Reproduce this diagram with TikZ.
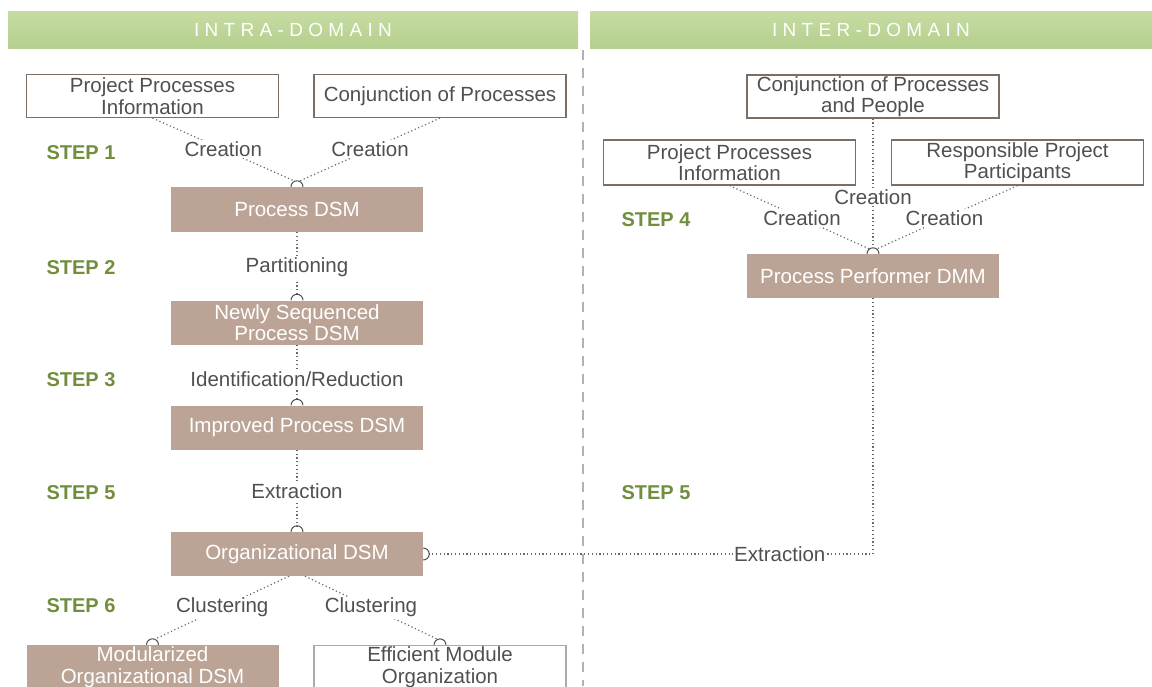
\documentclass[tikz,border=0pt]{standalone}
\usepackage{fontspec}
\setmainfont{Liberation Sans}
\definecolor{boxfill}{RGB}{187,164,150}
\definecolor{boxline}{RGB}{125,110,100}
\definecolor{txtgray}{RGB}{80,80,80}
\definecolor{stepgreen}{RGB}{112,142,62}
\definecolor{linegray}{RGB}{105,105,105}
\definecolor{hdrtop}{RGB}{198,220,162}
\definecolor{hdrbot}{RGB}{180,207,142}
\begin{document}
\begin{tikzpicture}[x=1pt,y=-1pt,
  dsm/.style={fill=boxfill,text=white,minimum width=252pt,minimum height=44pt,inner sep=0pt,align=center,font=\fontsize{20.5}{21.5}\selectfont},
  src/.style={draw=boxline,line width=1.2pt,fill=white,text=txtgray,minimum width=252pt,minimum height=43pt,inner sep=0pt,align=center,font=\fontsize{20.5}{21.5}\selectfont},
  lbl/.style={fill=white,text=txtgray,inner sep=1.5pt,font=\fontsize{20.5}{21.5}\selectfont},
  stp/.style={text=stepgreen,font=\bfseries\fontsize{20}{22}\selectfont},
  conn/.style={draw=linegray,line width=1.2pt,dash pattern=on 1.2pt off 2.6pt},
  sock/.style={draw=black!70,line width=1pt},
  hdr/.style={top color=hdrtop,bottom color=hdrbot,draw=none,minimum height=37pt,inner sep=0pt,text=white,font=\fontsize{19}{21}\selectfont\addfontfeature{LetterSpace=28}}
]
\useasboundingbox (0,0) rectangle (1152,686);
\clip (0,0) rectangle (1152,686);

% headers
\node[hdr,minimum width=570pt] (hintra) at (293,30) {INTRA-DOMAIN};
\node[hdr,minimum width=562pt] (hinter) at (871,30) {INTER-DOMAIN};

% separator
\draw[draw=gray!60,line width=1.3pt,dash pattern=on 10pt off 8pt] (583,50) -- (583,686);

% intra-domain nodes
\node[src] (ppi) at (152.5,96) {Project Processes\\Information};
\node[src] (cop) at (440,96) {Conjunction of Processes};
\node[dsm,minimum height=45pt] (pdsm) at (297,209.5) {Process DSM};
\node[dsm] (nsp) at (297,322.5) {Newly Sequenced\\Process DSM};
\node[dsm] (ipd) at (297,427.5) {Improved Process DSM};
\node[dsm] (odsm) at (297,554) {Organizational DSM};
\node[dsm] (mod) at (152.5,667) {Modularized\\Organizational DSM};
\node[src,draw=boxline!60] (emo) at (440,667) {Efficient Module\\Organization};

% inter-domain nodes
\node[src] (copp) at (873,96.5) {Conjunction of Processes\\and People};
\node[src,minimum height=45pt] (ppi2) at (729.5,162.5) {Project Processes\\Information};
\node[src,minimum height=45pt] (rpp) at (1017.5,162.5) {Responsible Project\\Participants};
\node[dsm] (ppm) at (873,276) {Process Performer DMM};

% steps
\node[stp] (s1) at (81,153) {STEP 1};
\node[stp] (s2) at (81,268) {STEP 2};
\node[stp] (s3) at (81,380) {STEP 3};
\node[stp] (s5) at (81,493) {STEP 5};
\node[stp] (s6) at (81,606) {STEP 6};
\node[stp] (s4) at (656,220) {STEP 4};
\node[stp] (s5b) at (656,493) {STEP 5};

% step 1
\draw[conn] (ppi.south) -- node[lbl] (c1a) {Creation} ([xshift=-3pt,yshift=6pt]pdsm.north);
\draw[conn] (cop.south) -- node[lbl] (c1b) {Creation} ([xshift=3pt,yshift=6pt]pdsm.north);
\draw[sock] ([xshift=-6pt]pdsm.north) arc[start angle=180,end angle=0,radius=6pt];

% step 2
\draw[conn] (pdsm.south) -- node[lbl,pos=0.57] (c2) {Partitioning} ([yshift=6pt]nsp.north);
\draw[sock] ([xshift=-6pt]nsp.north) arc[start angle=180,end angle=0,radius=6pt];

% step 3
\draw[conn] (nsp.south) -- node[lbl,pos=0.64] (c3) {Identification/Reduction} ([yshift=6pt]ipd.north);
\draw[sock] ([xshift=-6pt]ipd.north) arc[start angle=180,end angle=0,radius=6pt];

% step 5 (intra)
\draw[conn] (ipd.south) -- node[lbl,pos=0.55] (c5) {Extraction} ([yshift=6pt]odsm.north);
\draw[sock] ([xshift=-6pt]odsm.north) arc[start angle=180,end angle=0,radius=6pt];

% step 6
\draw[conn] ([xshift=-8pt]odsm.south) -- node[lbl] (c6a) {Clustering} ([xshift=3pt,yshift=6pt]mod.north);
\draw[conn] ([xshift=8pt]odsm.south) -- node[lbl] (c6b) {Clustering} ([xshift=-3pt,yshift=6pt]emo.north);
\draw[sock] ([xshift=-6pt]mod.north) arc[start angle=180,end angle=0,radius=6pt];
\draw[sock] ([xshift=-6pt]emo.north) arc[start angle=180,end angle=0,radius=6pt];

% step 4
\draw[conn] (ppi2.south) -- node[lbl,pos=0.52] (c4a) {Creation} ([xshift=-4pt,yshift=5pt]ppm.north);
\draw[conn] (rpp.south) -- node[lbl,pos=0.52] (c4b) {Creation} ([xshift=4pt,yshift=5pt]ppm.north);
\draw[conn] (copp.south) -- node[lbl,pos=0.61] (c4c) {Creation} ([yshift=6pt]ppm.north);
\draw[sock] ([xshift=-6pt]ppm.north) arc[start angle=180,end angle=0,radius=6pt];

% step 5 (inter)
\coordinate (xc) at (ppm.south |- odsm.east);
\draw[conn] (ppm.south) -- (xc) -- node[lbl,pos=0.21] (c5b) {Extraction} ([xshift=6pt]odsm.east);
\draw[sock] ([yshift=6pt]odsm.east) arc[start angle=90,end angle=-90,radius=6pt];
\end{tikzpicture}
\end{document}
